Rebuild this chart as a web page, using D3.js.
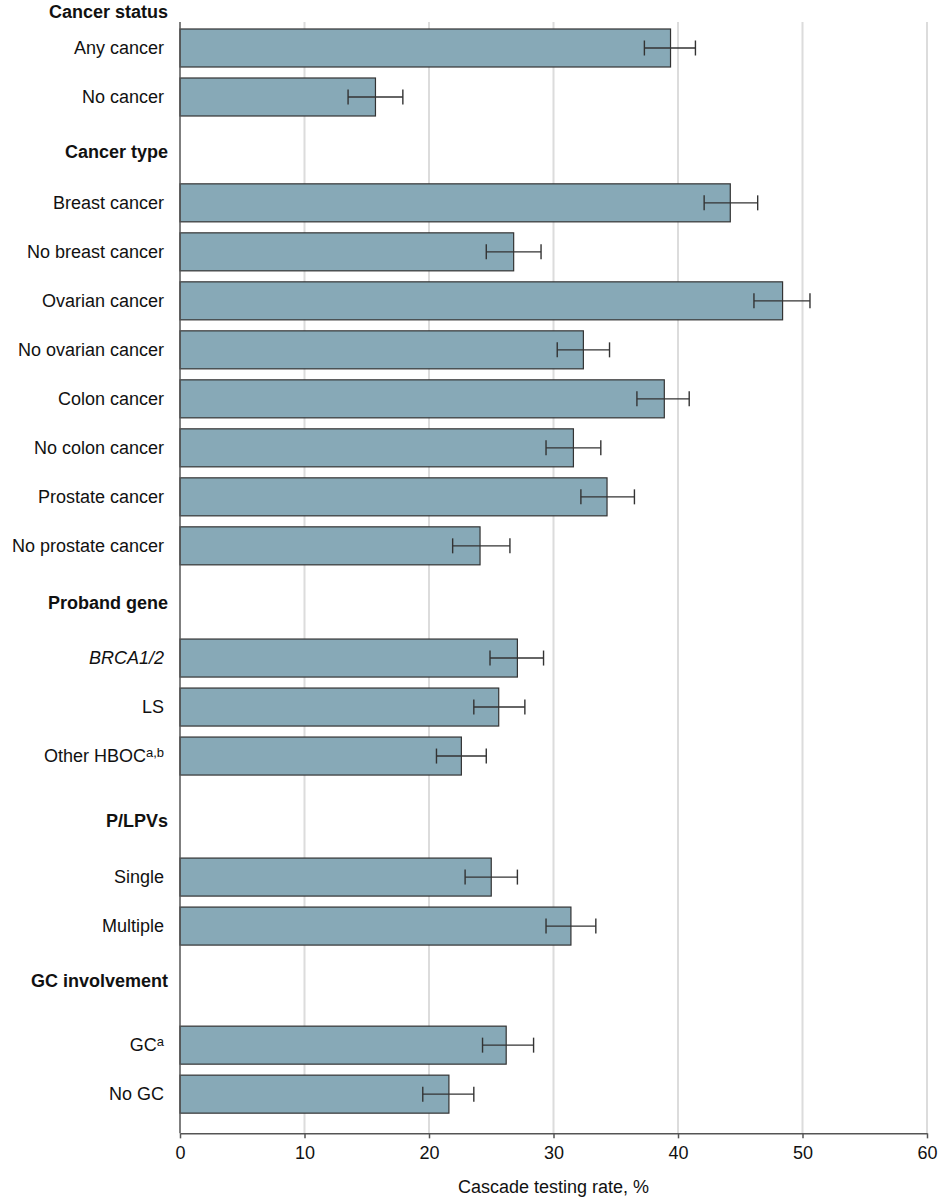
<!DOCTYPE html>
<html>
<head>
<meta charset="utf-8">
<script src="https://cdn.jsdelivr.net/npm/d3@7"></script>
<style>
	body { margin: 0; background: #fff; }
	svg { display: block; }
	text { font-family: "Liberation Sans", Arial, sans-serif; fill: #111; }
	.header { font-weight: bold; }
	.axis text { font-size: 18px; fill: #111; }
	.axis path, .axis line { stroke: #555; stroke-width: 1.5px; }
</style>
</head>
<body>
<script>
// group headers and rows, in drawing order
var groups = ['Cancer status', 'Cancer type', 'Proband gene', 'P/LPVs', 'GC involvement'];

var categories = ['Any cancer', 'No cancer',
	'Breast cancer', 'No breast cancer', 'Ovarian cancer', 'No ovarian cancer',
	'Colon cancer', 'No colon cancer', 'Prostate cancer', 'No prostate cancer',
	'BRCA1/2', 'LS', 'Other HBOC',
	'Single', 'Multiple',
	'GC', 'No GC'];
var categoryGroup = [0, 0, 1, 1, 1, 1, 1, 1, 1, 1, 2, 2, 2, 3, 3, 4, 4];
var superscripts = ['', '', '', '', '', '', '', '', '', '', '', '', 'a,b', '', '', 'a', ''];
var italicLabels = ['BRCA1/2'];

// cascade testing rate, % with 95% CI
var rates = [39.4, 15.7, 44.2, 26.8, 48.4, 32.4, 38.9, 31.6, 34.3, 24.1, 27.1, 25.6, 22.6, 25.0, 31.4, 26.2, 21.6];
var lower = [37.3, 13.5, 42.1, 24.6, 46.1, 30.3, 36.7, 29.4, 32.2, 21.9, 24.9, 23.6, 20.6, 22.9, 29.4, 24.3, 19.5];
var upper = [41.4, 17.9, 46.4, 29.0, 50.6, 34.5, 40.9, 33.8, 36.5, 26.5, 29.2, 27.7, 24.6, 27.1, 33.4, 28.4, 23.6];

var xTicks = [0, 10, 20, 30, 40, 50, 60];
var xTitle = 'Cascade testing rate, %';

var width = 940, height = 1200;
var left = 180, right = 927;
var rowH = 49, firstRow = 48;
// spacing (in rows) between groups, and where the header sits in that gap
var groupGaps = [2.16, 2.29, 2.47, 2.43];
var headerAfter = [1.12, 1.16, 1.32, 1.12];
var firstHeader = -0.735;

// row index of every category, with room for the group headers
var rowIndex = [], headerIndex = [firstHeader];
(function () {
	var idx = 0, g = 0;
	for (var i = 0; i < categories.length; i++) {
		if (i > 0 && categoryGroup[i] !== categoryGroup[i - 1]) {
			headerIndex.push(idx - 1 + headerAfter[g]);
			idx += groupGaps[g] - 1;
			g++;
		}
		rowIndex.push(idx);
		idx += 1;
	}
})();
var axisIndex = rowIndex[rowIndex.length - 1] + 0.8;

var x = d3.scaleLinear().domain([0, 60]).range([left, right]);
var y = d3.scaleLinear().domain([0, 1]).range([firstRow, firstRow + rowH]);
var barH = 38;

var svg = d3.select('body').append('svg')
	.attr('width', width)
	.attr('height', height);

// grid lines
svg.append('g').selectAll('line')
	.data(xTicks.slice(1))
	.enter().append('line')
	.attr('x1', function (d) { return x(d); })
	.attr('x2', function (d) { return x(d); })
	.attr('y1', y(-0.53))
	.attr('y2', y(axisIndex))
	.attr('stroke', '#dcdcdc')
	.attr('stroke-width', 2);

// bars
svg.append('g').selectAll('rect')
	.data(rates)
	.enter().append('rect')
	.attr('x', x(0))
	.attr('y', function (d, i) { return y(rowIndex[i]) - barH / 2; })
	.attr('width', function (d) { return x(d) - x(0); })
	.attr('height', barH)
	.attr('fill', '#87a9b7')
	.attr('stroke', '#333')
	.attr('stroke-width', 1.2);

// error bars
var err = svg.append('g').attr('stroke', '#333').attr('stroke-width', 1.4);
rates.forEach(function (d, i) {
	var cy = y(rowIndex[i]);
	err.append('line').attr('x1', x(lower[i])).attr('x2', x(upper[i])).attr('y1', cy).attr('y2', cy);
	err.append('line').attr('x1', x(lower[i])).attr('x2', x(lower[i])).attr('y1', cy - 7.5).attr('y2', cy + 7.5);
	err.append('line').attr('x1', x(upper[i])).attr('x2', x(upper[i])).attr('y1', cy - 7.5).attr('y2', cy + 7.5);
});

// y axis line
svg.append('line')
	.attr('x1', x(0)).attr('x2', x(0))
	.attr('y1', y(-0.53)).attr('y2', y(axisIndex))
	.attr('stroke', '#555').attr('stroke-width', 1.5);

// category labels
var labels = svg.append('g').selectAll('text')
	.data(categories)
	.enter().append('text')
	.attr('x', left - 16)
	.attr('y', function (d, i) { return y(rowIndex[i]); })
	.attr('dy', '0.35em')
	.attr('text-anchor', 'end')
	.style('font-size', '18px');

labels.append('tspan')
	.style('font-style', function (d) { return italicLabels.indexOf(d) >= 0 ? 'italic' : 'normal'; })
	.text(function (d) { return d; });
labels.filter(function (d, i) { return superscripts[i]; })
	.append('tspan')
	.attr('dy', '-0.45em')
	.style('font-size', '13px')
	.text(function (d) { return superscripts[categories.indexOf(d)]; });

// group headers
svg.append('g').selectAll('text')
	.data(groups)
	.enter().append('text')
	.attr('class', 'header')
	.attr('x', left - 12)
	.attr('y', function (d, i) { return y(headerIndex[i]); })
	.attr('dy', '0.35em')
	.attr('text-anchor', 'end')
	.style('font-size', '18px')
	.text(function (d) { return d; });

// x axis
svg.append('g')
	.attr('class', 'axis')
	.attr('transform', 'translate(0,' + y(axisIndex) + ')')
	.call(d3.axisBottom(x).tickValues(xTicks).tickSize(5).tickPadding(8).tickSizeOuter(0));

svg.append('text')
	.attr('x', (left + right) / 2)
	.attr('y', y(axisIndex) + 53)
	.attr('dy', '0.35em')
	.attr('text-anchor', 'middle')
	.style('font-size', '18px')
	.text(xTitle);
</script>
</body>
</html>
